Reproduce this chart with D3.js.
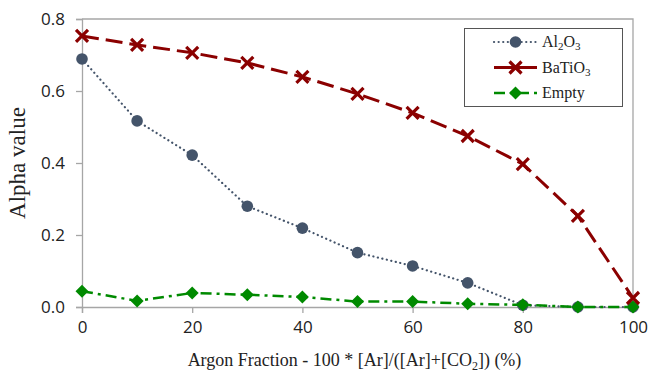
<!DOCTYPE html>
<html>
<head>
<meta charset="utf-8">
<script src="https://cdn.jsdelivr.net/npm/d3@7"></script>
<style>
  body { margin: 0; background: #fff; }
  .tick text { font-family: "Open Sans", "DejaVu Sans", sans-serif; font-size: 17px; fill: #222; }
</style>
</head>
<body>
<svg id="chart" width="649" height="374"></svg>
<script>
const width = 649;
const height = 374;
const margin = { left: 82, right: 16, top: 19, bottom: 67 };

const argonFraction = [0, 10, 20, 30, 40, 50, 60, 70, 80, 90, 100];
const al2o3 = [0.689, 0.517, 0.422, 0.280, 0.219, 0.151, 0.114, 0.067, 0.005, 0.0, 0.0];
const batio3 = [0.753, 0.728, 0.706, 0.678, 0.639, 0.592, 0.539, 0.475, 0.397, 0.253, 0.025];
const empty = [0.044, 0.017, 0.039, 0.034, 0.028, 0.015, 0.015, 0.009, 0.006, 0.0, 0.0];

const xTicks = [0, 20, 40, 60, 80, 100];
const yTicks = [0, 0.2, 0.4, 0.6, 0.8];

const serif = "Liberation Serif, Times New Roman, serif";

const series = [
    { name: "Al", sub: "2", rest: "O", sub2: "3", values: al2o3, color: "#44546a", dash: "0.1,4.5", width: 2.2, cap: "round", marker: "circle" },
    { name: "BaTiO", sub: "3", values: batio3, color: "#8b0000", dash: "17,7", width: 3, cap: "butt", marker: "x" },
    { name: "Empty", values: empty, color: "#008a00", dash: "11,5,3,5", width: 2.5, cap: "butt", marker: "diamond" }
];

const svg = d3.select("#chart");

const x = d3.scaleLinear().domain([0, 100]).range([margin.left, width - margin.right]);
const y = d3.scaleLinear().domain([0, 0.8]).range([height - margin.bottom, margin.top]);

// frame: top and right borders
svg.append("path")
    .attr("d", `M${x(0)},${y(0.8)}H${x(100)}V${y(0)}`)
    .attr("fill", "none")
    .attr("stroke", "#a6a6a6")
    .attr("stroke-width", 1.3);

const xAxis = svg.append("g")
    .attr("transform", `translate(0,${y(0)})`)
    .call(d3.axisBottom(x).tickValues(xTicks).tickSize(6).tickPadding(8).tickFormat(d3.format("d")));
const yAxis = svg.append("g")
    .attr("transform", `translate(${x(0)},0)`)
    .call(d3.axisLeft(y).tickValues(yTicks).tickSize(6).tickPadding(11).tickFormat(d3.format(".1f")));

[xAxis, yAxis].forEach(a => {
    a.select(".domain").attr("stroke", "#a6a6a6").attr("stroke-width", 1.3);
    a.selectAll(".tick line").attr("stroke", "#a6a6a6").attr("stroke-width", 1.3);
});

// axis titles
svg.append("text")
    .attr("x", (x(0) + x(100)) / 2 - 3)
    .attr("y", 366)
    .attr("text-anchor", "middle")
    .style("font-family", serif)
    .style("font-size", "18px")
    .attr("fill", "#222")
    .call(t => {
        t.append("tspan").text("Argon Fraction - 100 * [Ar]/([Ar]+[CO");
        t.append("tspan").style("font-size", "12px").attr("dy", 4).text("2");
        t.append("tspan").attr("dy", -4).text("]) (%)");
    });

svg.append("text")
    .attr("transform", `translate(25,${(y(0) + y(0.8)) / 2}) rotate(-90)`)
    .attr("text-anchor", "middle")
    .style("font-family", serif)
    .style("font-size", "23px")
    .attr("fill", "#222")
    .text("Alpha value");

function drawMarker(g, type, color) {
    if (type === "circle") {
        g.append("circle").attr("r", 5.8).attr("fill", color);
    } else if (type === "x") {
        g.append("path").attr("d", "M-6,-6L6,6M-6,6L6,-6")
            .attr("stroke", color).attr("stroke-width", 3.2).attr("fill", "none");
    } else {
        g.append("path").attr("d", "M0,-6.5L6.5,0L0,6.5L-6.5,0Z").attr("fill", color);
    }
}

const line = d3.line().x(d => x(d[0])).y(d => y(d[1]));

series.forEach(s => {
    const pts = argonFraction.map((a, i) => [a, s.values[i]]);
    svg.append("path")
        .datum(pts)
        .attr("d", line)
        .attr("fill", "none")
        .attr("stroke", s.color)
        .attr("stroke-width", s.width)
        .attr("stroke-dasharray", s.dash)
        .attr("stroke-linecap", s.cap);
    pts.forEach(p => {
        const g = svg.append("g").attr("transform", `translate(${x(p[0])},${y(p[1])})`);
        drawMarker(g, s.marker, s.color);
    });
});

// legend
const legend = svg.append("g");
legend.append("rect")
    .attr("x", 464.5).attr("y", 28.5).attr("width", 158).attr("height", 78)
    .attr("fill", "#fff").attr("stroke", "#555").attr("stroke-width", 1);

series.forEach((s, i) => {
    const ly = 42 + i * 25.5;
    legend.append("line")
        .attr("x1", 494).attr("x2", 537).attr("y1", ly).attr("y2", ly)
        .attr("stroke", s.color).attr("stroke-width", s.width)
        .attr("stroke-dasharray", s.marker === "x" ? null : s.dash)
        .attr("stroke-linecap", s.cap);
    const g = legend.append("g").attr("transform", `translate(515.5,${ly})`);
    drawMarker(g, s.marker, s.color);
    const t = legend.append("text")
        .attr("x", 542).attr("y", ly + 5)
        .style("font-family", serif)
        .style("font-size", "16px").attr("fill", "#222");
    t.append("tspan").text(s.name);
    if (s.sub) t.append("tspan").style("font-size", "11px").attr("dy", 3).text(s.sub);
    if (s.rest) t.append("tspan").attr("dy", -3).text(s.rest);
    if (s.sub2) t.append("tspan").style("font-size", "11px").attr("dy", 3).text(s.sub2);
});
</script>
</body>
</html>
